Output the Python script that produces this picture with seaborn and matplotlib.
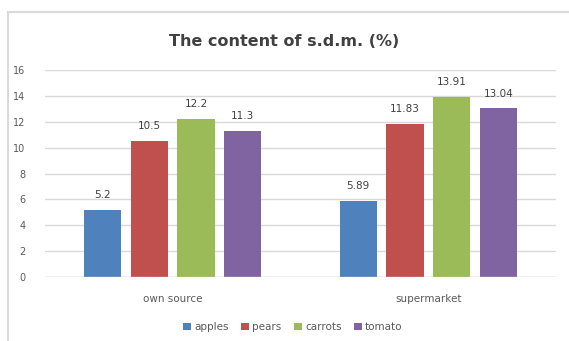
import matplotlib
matplotlib.use("Agg")
import matplotlib.pyplot as plt
import seaborn as sns
import pandas as pd
from matplotlib.patches import Rectangle

sources = ["own source", "supermarket"]
products = ["apples", "pears", "carrots", "tomato"]
own_source = [5.2, 10.5, 12.2, 11.3]
supermarket = [5.89, 11.83, 13.91, 13.04]
labels_own = ["5.2", "10.5", "12.2", "11.3"]
labels_sup = ["5.89", "11.83", "13.91", "13.04"]
yticks = [0, 2, 4, 6, 8, 10, 12, 14, 16]
colors = ["#4F81BD", "#C0504D", "#9BBB59", "#8064A2"]

rows = []
for p, v in zip(products, own_source):
    rows.append({"source": sources[0], "product": p, "value": v})
for p, v in zip(products, supermarket):
    rows.append({"source": sources[1], "product": p, "value": v})
df = pd.DataFrame(rows)

sns.set_theme(style="white")
plt.rcParams['font.family'] = ['DejaVu Sans']

fig = plt.figure(figsize=(5.69, 3.41), dpi=100)
ax = fig.add_axes([45/569, 1-277/341, 511/569, 207/341])

sns.barplot(data=df, x="source", y="value", hue="product", order=sources,
            hue_order=products, palette=colors, width=0.73, gap=0.2,
            saturation=1, ax=ax, legend=True, linewidth=0)

ax.set_ylim(0, 16)
ax.set_yticks(yticks)
ax.set_yticklabels([str(t) for t in yticks], color="#595959", fontsize=7)
ax.set_xlim(-0.5, 1.5)
ax.tick_params(axis="x", colors="#595959", labelsize=7.5, length=0, pad=12)
ax.tick_params(axis="y", length=0, pad=14)
ax.set_xlabel("")
ax.set_ylabel("")
ax.grid(axis="y", color="#D9D9D9", linewidth=1)
ax.set_axisbelow(True)
for s in ax.spines.values():
    s.set_visible(False)
ax.axhline(0, color="#D0D0D0", linewidth=1, zorder=1)

for prod_i, cont in enumerate(ax.containers):
    labs = [labels_own[prod_i], labels_sup[prod_i]]
    ax.bar_label(cont, labels=labs, padding=7, fontsize=7.5, color="#404040")

handles, labels = ax.get_legend_handles_labels()
ax.legend_.remove()
fig.legend(handles, labels, loc="center", bbox_to_anchor=(293/569, 1-327/341),
           ncol=4, frameon=False, fontsize=7.5, handlelength=0.75, handleheight=0.75,
           handletextpad=0.3, columnspacing=1.2, labelcolor="#595959")

fig.text(0.5, 1-42/341, "The content of s.d.m. (%)", ha="center", va="center",
         fontsize=11.5, color="#404040", fontweight="semibold")

fig.patches.append(Rectangle((8/569, -0.1), 1.2, 1 - 12/341 + 0.1,
                             transform=fig.transFigure, fill=False,
                             edgecolor="#D9D9D9", linewidth=1.5))

fig.savefig("out.png", dpi=100)
